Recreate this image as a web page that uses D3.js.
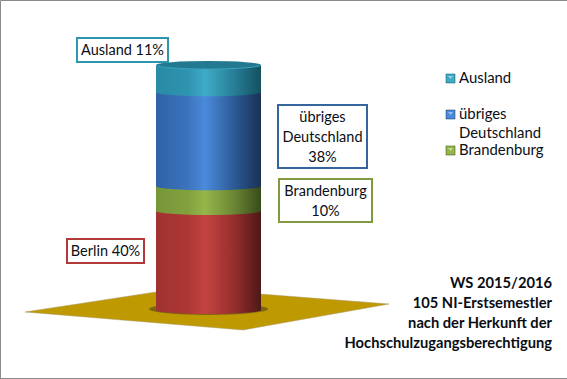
<!DOCTYPE html>
<html>
    <head>
        <meta charset="utf-8">
        <title>Herkunft der Erstsemester</title>
        <script src="https://d3js.org/d3.v7.min.js"></script>
        <style>
            html, body { margin: 0; padding: 0; background: #fff; }
            svg { display: block; }
            text { font-family: Lato, "Open Sans", sans-serif; fill: #0a0d14; }
        </style>
    </head>
    <body>
        <div id="container"></div>
        <script>
            // data, bottom to top
            const categories = ['Berlin', 'Brandenburg', 'übriges Deutschland', 'Ausland']
            const shares = [40, 10, 38, 11]
            const legendOrder = ['Ausland', 'übriges Deutschland', 'Brandenburg']
            const titleLines = ['WS 2015/2016', '105 NI-Erstsemestler', 'nach der Herkunft der', 'Hochschulzugangsberechtigung']

            const width = 567
            const height = 379
            const svg = d3.select('#container').append('svg')
                .attr('width', width)
                .attr('height', height)

            const row = Object.fromEntries(categories.map((c, i) => [c, shares[i]]))
            const stacked = d3.stack().keys(categories)([row])

            const xScale = d3.scaleBand().domain(['Herkunft']).range([156, 261])
            const yScale = d3.scaleLinear().domain([0, d3.sum(shares)]).range([310, 65])
            const left = xScale('Herkunft')
            const right = left + xScale.bandwidth()
            const rx = xScale.bandwidth() / 2
            const ry = 4

            // shading of the cylinder: left edge, flank, highlight, shadow side, right edge
            const shades = {
                'Berlin': ['#a03231', '#ad3735', '#c44340', '#942e2d', '#4d1817'],
                'Brandenburg': ['#779638', '#82a13e', '#94b64a', '#6a8533', '#384a1b'],
                'übriges Deutschland': ['#2f62a6', '#3c73bd', '#4b8adb', '#2b5994', '#1a3155'],
                'Ausland': ['#298aa5', '#2e94b0', '#3fabc7', '#267d96', '#16505f']
            }
            const outlines = {
                'Berlin': '#b03a38',
                'Brandenburg': '#7f9a3f',
                'übriges Deutschland': '#34659f',
                'Ausland': '#2e95ae'
            }

            const defs = svg.append('defs')
            const gradId = c => 'g' + categories.indexOf(c)
            categories.forEach(c => {
                const g = defs.append('linearGradient').attr('id', gradId(c))
                ;[0, 0.3, 0.47, 0.75, 1].forEach((o, i) => {
                    g.append('stop').attr('offset', o).attr('stop-color', shades[c][i])
                })
            })

            // floor
            svg.append('polygon')
                .attr('points', [[25, 312], [182, 288], [389, 304], [243, 330]].join(' '))
                .attr('fill', '#bf9900')
                .attr('stroke', '#a89a70')
                .attr('stroke-width', 0.5)
            svg.append('ellipse')
                .attr('cx', (left + right) / 2)
                .attr('cy', yScale(0) - 1)
                .attr('rx', rx + 7)
                .attr('ry', 6)
                .attr('fill', '#7d6512')

            // cylinder segments, lower ones first so the curved edges overlap them
            svg.append('g').selectAll('path')
                .data(stacked)
                .join('path')
                .attr('fill', d => `url(#${gradId(d.key)})`)
                .attr('d', d => {
                    const y0 = yScale(d[0][0])
                    const y1 = yScale(d[0][1])
                    return `M${left},${y1}L${left},${y0}A${rx},${ry} 0 0 0 ${right},${y0}L${right},${y1}Z`
                })

            // top of the cylinder
            const topY = yScale(d3.sum(shares))
            svg.append('ellipse')
                .attr('cx', (left + right) / 2)
                .attr('cy', topY)
                .attr('rx', rx)
                .attr('ry', ry)
                .attr('fill', '#237a90')
            svg.append('path')
                .attr('d', `M${left},${topY}A${rx},${ry} 0 0 0 ${right},${topY}`)
                .attr('fill', 'none')
                .attr('stroke', '#3aa0bb')
                .attr('stroke-width', 1)

            // value labels
            const labels = [
                { key: 'Ausland', x: 77, y: 38, w: 91, h: 24, lines: ['Ausland 11%'] },
                { key: 'übriges Deutschland', x: 278, y: 105, w: 89, h: 63, lines: ['übriges', 'Deutschland', '38%'] },
                { key: 'Brandenburg', x: 279, y: 179, w: 93, h: 43, lines: ['Brandenburg', '10%'] },
                { key: 'Berlin', x: 67, y: 239, w: 77, h: 24, lines: ['Berlin 40%'] }
            ]
            const labelG = svg.append('g').selectAll('g')
                .data(labels)
                .join('g')
            labelG.append('rect')
                .attr('x', d => d.x)
                .attr('y', d => d.y)
                .attr('width', d => d.w)
                .attr('height', d => d.h)
                .attr('fill', '#fff')
                .attr('stroke', d => outlines[d.key])
                .attr('stroke-width', 2)
            labelG.each(function (d) {
                d3.select(this).selectAll('text')
                    .data(d.lines)
                    .join('text')
                    .attr('x', d.x + d.w / 2)
                    .attr('y', (l, i) => d.y + (d.lines.length === 1 ? 17 : 17 + i * 20))
                    .attr('text-anchor', 'middle')
                    .attr('font-size', 14.5)
                    .text(l => l)
            })

            // legend
            const legendY = d3.scaleOrdinal().domain(legendOrder).range([74, 110, 146])
            const legend = svg.append('g').selectAll('g')
                .data(legendOrder)
                .join('g')
                .attr('transform', d => `translate(446, ${legendY(d)})`)
            legend.append('rect')
                .attr('width', 9)
                .attr('height', 9)
                .attr('fill', d => shades[d][2])
                .attr('stroke', d => shades[d][4])
                .attr('stroke-width', 0.5)
            legend.append('path')
                .attr('d', 'M2,2L7,2L4.5,5Z')
                .attr('fill', '#fff')
                .attr('opacity', 0.45)
            legend.selectAll('text')
                .data(d => d === 'übriges Deutschland' ? ['übriges', 'Deutschland'] : [d])
                .join('text')
                .attr('x', 13)
                .attr('y', (l, i) => 9 + i * 19)
                .attr('font-size', 14.9)
                .text(l => l)

            // title block
            svg.append('g').selectAll('text')
                .data(titleLines)
                .join('text')
                .attr('x', 552)
                .attr('y', (l, i) => 288 + i * 20)
                .attr('text-anchor', 'end')
                .attr('font-size', 14.7)
                .attr('font-weight', 700)
                .text(l => l)

            // frame
            svg.append('path')
                .attr('d', `M0.5,${height - 0.5}L0.5,0.5L${width},0.5M0,${height - 0.5}L${width},${height - 0.5}`)
                .attr('fill', 'none')
                .attr('stroke', '#8a8a8a')
        </script>
    </body>
</html>
